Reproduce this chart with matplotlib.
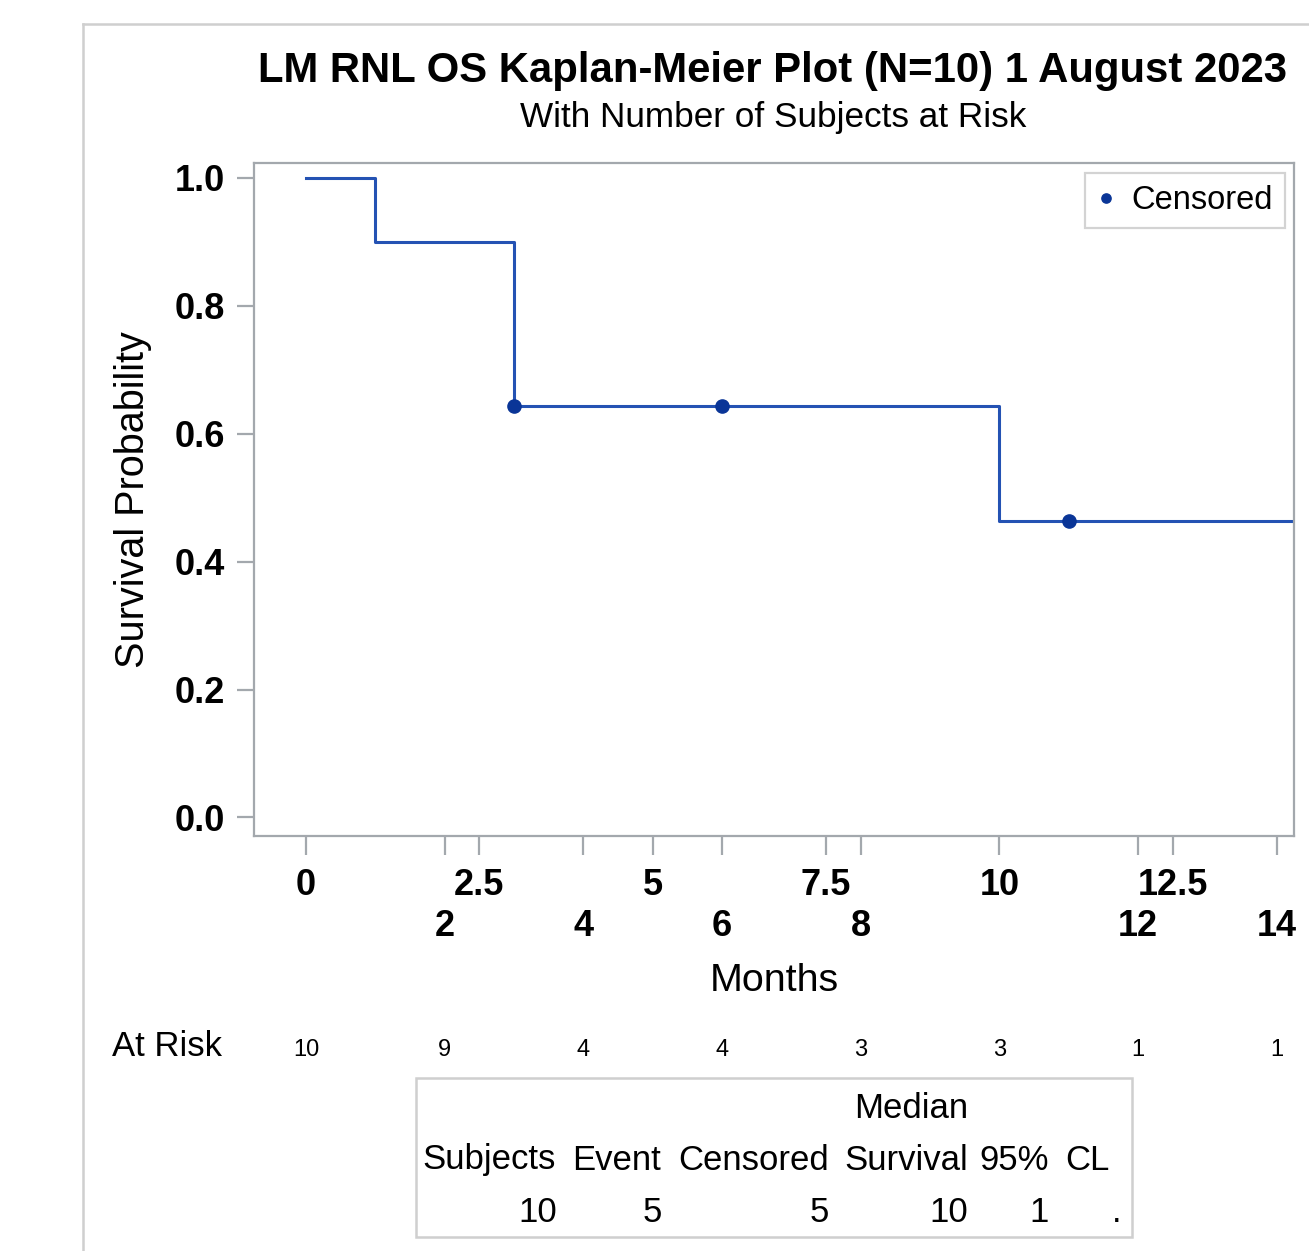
import matplotlib
matplotlib.use("Agg")
import matplotlib.pyplot as plt
import matplotlib.transforms as mtransforms
from matplotlib.lines import Line2D

# Kaplan-Meier step values
km_times = [0, 1, 3, 10, 14.25]
km_surv = [1.0, 0.9, 0.643, 0.464, 0.464]

censor_times = [3, 6, 11]
censor_surv = [0.643, 0.643, 0.464]

# number at risk row
risk_times = [0, 2, 4, 6, 8, 10, 12, 14]
risk_counts = [10, 9, 4, 4, 3, 3, 1, 1]

# x ticks: SAS drew two overlapping tick sets
xticks_row1 = [0, 2.5, 5, 7.5, 10, 12.5]
xticks_row2 = [2, 4, 6, 8, 12, 14]
yticks = [0.0, 0.2, 0.4, 0.6, 0.8, 1.0]

# summary table under the plot
table_headers = ["Subjects", "Event", "Censored", "Survival", "95%", "CL"]
table_values = ["10", "5", "5", "10", "1", "."]

W, H = 1309, 1251
LINE_COLOR = "#2452b3"
MARK_COLOR = "#0a3597"
SPINE_COLOR = "#a3a8ad"

plt.rcParams["font.family"] = ["Liberation Sans", "DejaVu Sans"]


def fx(px):
    return px / W


def fy(py):
    return 1 - py / H


fig = plt.figure(figsize=(W / 100, H / 100), dpi=100)
fig.patch.set_facecolor("white")

# outer frame of the SAS output (only top/left edges visible)
fig.add_artist(Line2D([fx(83), 1.0], [fy(24), fy(24)], color="#cfcfcf", lw=1.8))
fig.add_artist(Line2D([fx(83), fx(83)], [fy(24), 0.0], color="#cfcfcf", lw=1.8))

ax = fig.add_axes([fx(254), fy(836), fx(1294) - fx(254), fy(163) - fy(836)])

ax.step(km_times, km_surv, where="post", color=LINE_COLOR, lw=2.2)
ax.plot(censor_times, censor_surv, "o", color=MARK_COLOR, ms=9.5, ls="none",
        label="Censored")

ax.set_xlim(-0.75, 14.25)
ax.set_ylim(-0.029, 1.023)

for s in ax.spines.values():
    s.set_color(SPINE_COLOR)
    s.set_linewidth(1.6)

ax.set_yticks(yticks)
ax.set_yticklabels([f"{v:.1f}" for v in yticks], fontsize=26, fontweight="bold")
ax.tick_params(axis="y", length=12, width=1.6, color=SPINE_COLOR, pad=9)

ax.set_xticks(xticks_row1)
ax.set_xticklabels([f"{v:g}" for v in xticks_row1], fontsize=26, fontweight="bold")
ax.set_xticks(xticks_row2, minor=True)
ax.set_xticklabels([f"{v:g}" for v in xticks_row2], minor=True, fontsize=26,
                   fontweight="bold")
ax.tick_params(axis="x", which="major", length=14, width=1.6, color=SPINE_COLOR,
               pad=9)
ax.tick_params(axis="x", which="minor", length=14, width=1.6, color=SPINE_COLOR,
               pad=38.5)

ax.set_xlabel("Months", fontsize=28.4, labelpad=14)
ax.set_ylabel("Survival Probability", fontsize=28.5, labelpad=16.5)

leg = ax.legend(loc="upper right", fontsize=23.5, frameon=True, fancybox=False,
                handlelength=0.55, handletextpad=0.49, borderpad=0.37,
                borderaxespad=0, markerscale=0.7,
                bbox_to_anchor=(0.9913, 0.9851))
leg.get_frame().set_edgecolor("#c9c9c9")
leg.get_frame().set_linewidth(1.6)

fig.text(fx(773), fy(71), "LM RNL OS Kaplan-Meier Plot (N=10) 1 August 2023",
         ha="center", va="center", fontsize=30.2, fontweight="bold")
fig.text(fx(773), fy(118), "With Number of Subjects at Risk",
         ha="center", va="center", fontsize=25.3)

# at-risk row, x in data coordinates
risk_tr = mtransforms.blended_transform_factory(ax.transData, fig.transFigure)
fig.text(fx(112), fy(1047), "At Risk", ha="left", va="center", fontsize=25)
for t, n in zip(risk_times, risk_counts):
    ax.text(t, fy(1050), str(n), transform=risk_tr, ha="center", va="center",
            fontsize=17, clip_on=False)

# summary table
fig.add_artist(plt.Rectangle((fx(416), fy(1237)), fx(1132) - fx(416),
                             fy(1078) - fy(1237), fill=False,
                             edgecolor="#cfcfcf", lw=1.8))
header_right = [556, 661, 829, 968, 1049, 1110]
value_right = [557, 662, 829, 968, 1049, 1121]
fig.text(fx(968), fy(1109), "Median", ha="right", va="center", fontsize=25)
for xr, h in zip(header_right, table_headers):
    fig.text(fx(xr), fy(1160), h, ha="right", va="center", fontsize=25)
for xr, v in zip(value_right, table_values):
    fig.text(fx(xr), fy(1212), v, ha="right", va="center", fontsize=25)

fig.savefig("out.png", dpi=100)
